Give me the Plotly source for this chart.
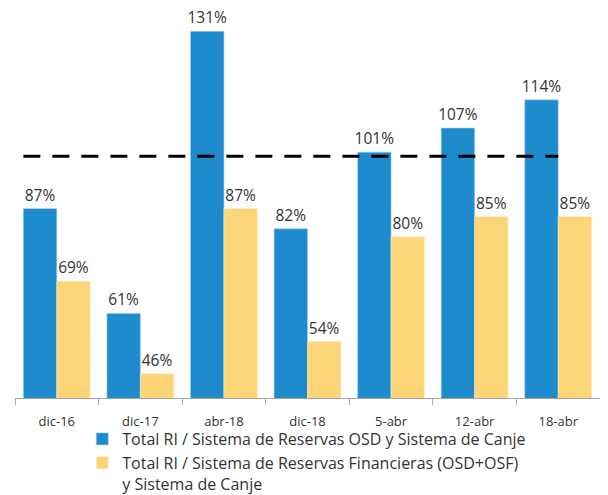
import plotly.graph_objects as go

categories = ["dic-16", "dic-17", "abr-18", "dic-18", "5-abr", "12-abr", "18-abr"]
osd_canje = [87, 61, 131, 82, 101, 107, 114]
financieras_canje = [69, 46, 87, 54, 80, 85, 85]
threshold = 100
series_names = [
    "Total RI / Sistema de Reservas OSD y Sistema de Canje",
    "Total RI / Sistema de Reservas Financieras (OSD+OSF)<br>y Sistema de Canje",
]

BLUE = "#1e8bcd"
YELLOW = "#fdd67a"
FONT = "Open Sans"
TXT = "#333333"

fig = go.Figure()
fig.add_trace(go.Bar(
    x=categories, y=osd_canje, name=series_names[0],
    marker=dict(color=BLUE, line=dict(color="#9fd0ee", width=0.6)),
    texttemplate="%{y}%", textposition="outside", constraintext="none",
    textfont=dict(family=FONT, size=15.5, color=TXT), cliponaxis=False,
))
fig.add_trace(go.Bar(
    x=categories, y=financieras_canje, name=series_names[1],
    marker=dict(color=YELLOW, line=dict(color="#fde9b8", width=0.6)),
    texttemplate="%{y}%", textposition="outside", constraintext="none",
    textfont=dict(family=FONT, size=15.5, color=TXT), cliponaxis=False,
))

fig.add_shape(type="line", xref="x", yref="y",
              x0=-0.4, x1=len(categories) - 1, y0=threshold, y1=threshold,
              line=dict(color="black", width=3, dash="17px,12px"))

# The page body has an 8px margin, so the figure is sized/offset to compensate.
fig.update_layout(
    width=600, height=487,
    margin=dict(l=7, r=8, t=0, b=97, autoexpand=False),
    paper_bgcolor="white", plot_bgcolor="white",
    barmode="group", bargap=0.2, bargroupgap=0,
    font=dict(family=FONT, color=TXT),
    showlegend=True,
    legend=dict(orientation="v", x=0.115, xanchor="left", y=-0.0615, yanchor="top",
                font=dict(family=FONT, size=16, color=TXT), valign="top",
                tracegroupgap=0, itemclick=False, bgcolor="rgba(0,0,0,0)"),
    xaxis=dict(showline=True, linecolor="#a6a6a6", linewidth=1,
               ticks="outside", tickson="boundaries", ticklen=6, tickcolor="#a6a6a6",
               ticklabelstandoff=11,
               tickfont=dict(family=FONT, size=13, color=TXT), showgrid=False),
    yaxis=dict(visible=False, range=[40, 136.8], showgrid=False, zeroline=False),
)

fig.write_html("out.html")
